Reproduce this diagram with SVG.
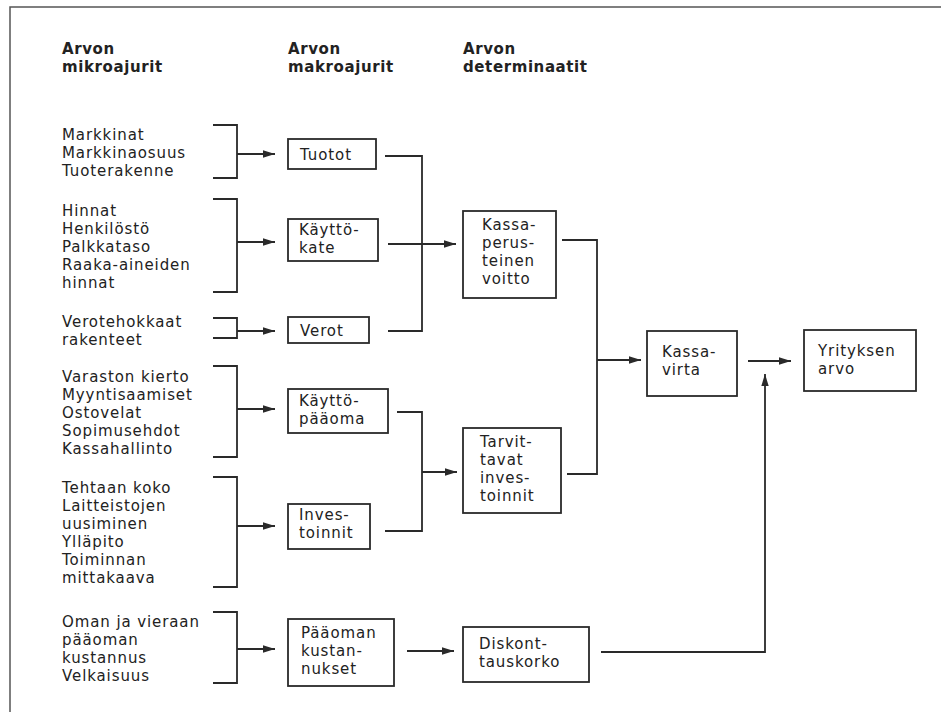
<svg xmlns="http://www.w3.org/2000/svg" width="941" height="712" viewBox="0 0 941 712">
  <style>
    .frame { fill: none; stroke: #555; stroke-width: 1.5; }
    .box { fill: #fff; stroke: #2a2a2a; stroke-width: 1.8; }
    .line { fill: none; stroke: #2a2a2a; stroke-width: 1.8; }
    .arrow { fill: none; stroke: #2a2a2a; stroke-width: 1.8; marker-end: url(#head); }
    text { font-family: "DejaVu Sans", "Liberation Sans", sans-serif; font-size: 15px; fill: #222; letter-spacing: 0.9px; }
    .head { font-weight: bold; letter-spacing: 0.6px; }
  </style>
  <defs>
    <marker id="head" markerUnits="userSpaceOnUse" markerWidth="13" markerHeight="9" refX="12" refY="4.5" orient="auto">
      <path d="M0,0.8 L12,4.5 L0,8.2 z" fill="#2a2a2a"/>
    </marker>
  </defs>

  <rect width="941" height="712" fill="#fff"/>
  <path class="frame" d="M10,712 V7 H941"/>

  <!-- column headings -->
  <g id="headings">
    <text class="head" x="62" y="54">Arvon</text>
    <text class="head" x="62" y="72">mikroajurit</text>
    <text class="head" x="288" y="54">Arvon</text>
    <text class="head" x="288" y="72">makroajurit</text>
    <text class="head" x="463" y="54">Arvon</text>
    <text class="head" x="463" y="72">determinaatit</text>
  </g>

  <!-- micro drivers -->
  <g id="micro-sales">
    <text x="62" y="140">Markkinat</text>
    <text x="62" y="158">Markkinaosuus</text>
    <text x="62" y="176">Tuoterakenne</text>
  </g>
  <g id="micro-costs">
    <text x="62" y="216">Hinnat</text>
    <text x="62" y="234">Henkilöstö</text>
    <text x="62" y="252">Palkkataso</text>
    <text x="62" y="270">Raaka-aineiden</text>
    <text x="62" y="288">hinnat</text>
  </g>
  <g id="micro-tax">
    <text x="62" y="327">Verotehokkaat</text>
    <text x="62" y="345">rakenteet</text>
  </g>
  <g id="micro-working-capital">
    <text x="62" y="382">Varaston kierto</text>
    <text x="62" y="400">Myyntisaamiset</text>
    <text x="62" y="418">Ostovelat</text>
    <text x="62" y="436">Sopimusehdot</text>
    <text x="62" y="454">Kassahallinto</text>
  </g>
  <g id="micro-investment">
    <text x="62" y="493">Tehtaan koko</text>
    <text x="62" y="511">Laitteistojen</text>
    <text x="62" y="529">uusiminen</text>
    <text x="62" y="547">Ylläpito</text>
    <text x="62" y="565">Toiminnan</text>
    <text x="62" y="583">mittakaava</text>
  </g>
  <g id="micro-capital-cost">
    <text x="62" y="627">Oman ja vieraan</text>
    <text x="62" y="645">pääoman</text>
    <text x="62" y="663">kustannus</text>
    <text x="62" y="681">Velkaisuus</text>
  </g>

  <!-- macro drivers -->
  <g id="tuotot">
    <rect class="box" x="288" y="139" width="88" height="30"/>
    <text x="300" y="160">Tuotot</text>
  </g>
  <g id="kayttokate">
    <rect class="box" x="288" y="219" width="90" height="42"/>
    <text x="299" y="235">Käyttö-</text>
    <text x="299" y="253">kate</text>
  </g>
  <g id="verot">
    <rect class="box" x="288" y="317" width="81" height="26"/>
    <text x="300" y="336">Verot</text>
  </g>
  <g id="kayttopaaoma">
    <rect class="box" x="288" y="389" width="100" height="44"/>
    <text x="299" y="406">Käyttö-</text>
    <text x="299" y="424">pääoma</text>
  </g>
  <g id="investoinnit">
    <rect class="box" x="288" y="504" width="82" height="45"/>
    <text x="299" y="520">Inves-</text>
    <text x="299" y="538">toinnit</text>
  </g>
  <g id="paaoman-kustannukset">
    <rect class="box" x="288" y="619" width="106" height="67"/>
    <text x="301" y="638">Pääoman</text>
    <text x="301" y="656">kustan-</text>
    <text x="301" y="674">nukset</text>
  </g>

  <!-- determinants -->
  <g id="kassaperusteinen-voitto">
    <rect class="box" x="463" y="211" width="93" height="87"/>
    <text x="482" y="230">Kassa-</text>
    <text x="482" y="248">perus-</text>
    <text x="482" y="266">teinen</text>
    <text x="482" y="284">voitto</text>
  </g>
  <g id="tarvittavat-investoinnit">
    <rect class="box" x="463" y="428" width="98" height="85"/>
    <text x="480" y="447">Tarvit-</text>
    <text x="480" y="465">tavat</text>
    <text x="480" y="483">inves-</text>
    <text x="480" y="501">toinnit</text>
  </g>
  <g id="diskonttauskorko">
    <rect class="box" x="463" y="627" width="126" height="55"/>
    <text x="479" y="649">Diskont-</text>
    <text x="479" y="667">tauskorko</text>
  </g>
  <g id="kassavirta">
    <rect class="box" x="647" y="331" width="90" height="65"/>
    <text x="662" y="357">Kassa-</text>
    <text x="662" y="375">virta</text>
  </g>
  <g id="yrityksen-arvo">
    <rect class="box" x="804" y="330" width="112" height="61"/>
    <text x="818" y="356">Yrityksen</text>
    <text x="818" y="374">arvo</text>
  </g>

  <!-- connectors -->
  <g id="connectors">
    <path class="line" d="M213,125 H237 V178 H213"/>
    <path class="arrow" d="M237,154 H275"/>
    <path class="line" d="M213,199 H237 V292 H213"/>
    <path class="arrow" d="M237,242 H275"/>
    <path class="line" d="M213,318 H237 V338 H213"/>
    <path class="arrow" d="M237,331 H275"/>
    <path class="line" d="M213,366 H237 V457 H213"/>
    <path class="arrow" d="M237,409 H275"/>
    <path class="line" d="M213,477 H237 V587 H213"/>
    <path class="arrow" d="M237,526 H275"/>
    <path class="line" d="M213,612 H237 V683 H213"/>
    <path class="arrow" d="M237,649 H275"/>

    <path class="line" d="M385,156 H422 V331 H388"/>
    <path class="arrow" d="M388,244 H456"/>

    <path class="line" d="M397,412 H422 V531 H385"/>
    <path class="arrow" d="M422,472 H457"/>

    <path class="line" d="M562,240 H597 V474 H567"/>
    <path class="arrow" d="M597,360 H641"/>

    <path class="arrow" d="M748,361 H791"/>

    <path class="arrow" d="M407,651 H454"/>
    <path class="arrow" d="M601,652 H765 V374"/>
  </g>
</svg>
